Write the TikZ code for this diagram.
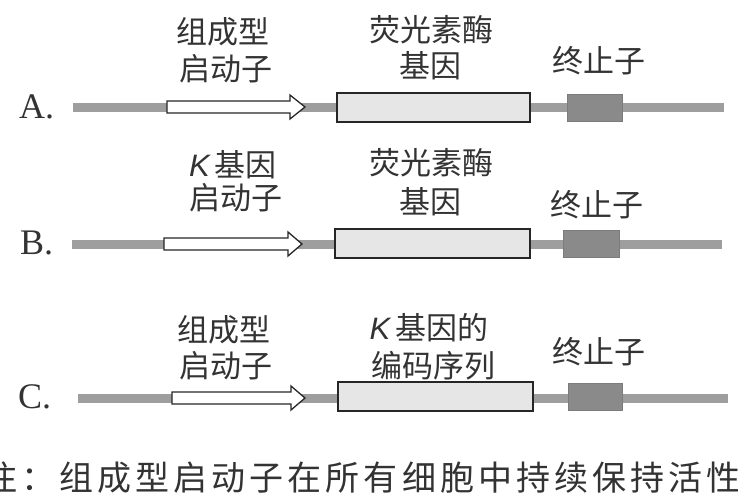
\documentclass[tikz,border=0pt]{standalone}
\usepackage{fontspec}
\setmainfont{Noto Sans CJK SC}
\newfontfamily\latinit{Liberation Sans}
\newfontfamily\letterfont{Liberation Serif}
\definecolor{dna}{HTML}{9E9E9E}
\definecolor{boxfill}{HTML}{E6E6E6}
\definecolor{termfill}{HTML}{8A8A8A}
\definecolor{txt}{HTML}{333333}
\begin{document}
\begin{tikzpicture}[x=1pt,y=-1pt,
  dnaline/.style={draw=dna, line width=9pt},
  genebox/.style={draw=black!85, line width=1.4pt, fill=boxfill, inner sep=0pt, minimum height=29pt},
  termbox/.style={draw=termfill!90!black, line width=0.6pt, fill=termfill, inner sep=0pt, minimum height=27pt},
  promoter/.style={draw=black!85, line width=1.3pt, fill=white, line join=miter},
  lbl/.style={text=txt, font=\fontsize{31}{31}\selectfont, inner sep=0pt},
  rowlbl/.style={text=txt, font=\letterfont\fontsize{36}{36}\selectfont, inner sep=0pt, anchor=west},
  note/.style={text=txt, font=\fontsize{34}{34}\selectfont\addfontfeature{LetterSpace=12}, inner sep=0pt, anchor=west}]
\useasboundingbox (0,0) rectangle (738,496);

% ---------- Row A ----------
\node[rowlbl] (rA) at (19,107) {A.};
\coordinate (a0) at (73,107);
\coordinate (a1) at (724,107);
\draw[dnaline] (a0) -- (a1);
\draw[promoter] (167,101) -- (290,101) -- (290,95) -- (305,107) -- (290,119) -- (290,113) -- (167,113) -- cycle;
\node[genebox, minimum width=193pt] (gA) at (433.5,107.5) {};
\node[termbox, minimum width=55pt] (tA) at (594.5,107.5) {};
\node[lbl] (pA1) at (223,32) {组成型};
\node[lbl] (pA2) at (226,69) {启动子};
\node[lbl] (gA1) at (431,30) {荧光素酶};
\node[lbl] (gA2) at (430,66) {基因};
\node[lbl] (tA1) at (599,61) {终止子};

% ---------- Row B ----------
\node[rowlbl] (rB) at (20,243) {B.};
\coordinate (b0) at (72,244);
\coordinate (b1) at (722,244);
\draw[dnaline] (b0) -- (b1);
\draw[promoter] (164,238) -- (288,238) -- (288,232) -- (302,244) -- (288,256) -- (288,250) -- (164,250) -- cycle;
\node[genebox, minimum width=195pt] (gB) at (432.5,243.5) {};
\node[termbox, minimum width=56pt] (tB) at (591,243.5) {};
\node[lbl] (pB1) at (233,165) {{\latinit\itshape K}\,基因};
\node[lbl] (pB2) at (236,198) {启动子};
\node[lbl] (gB1) at (431,163) {荧光素酶};
\node[lbl] (gB2) at (430,202) {基因};
\node[lbl] (tB1) at (597,205) {终止子};

% ---------- Row C ----------
\node[rowlbl] (rC) at (18,397) {C.};
\coordinate (c0) at (78,398);
\coordinate (c1) at (728,398);
\draw[dnaline] (c0) -- (c1);
\draw[promoter] (172,392) -- (291,392) -- (291,386) -- (305,398) -- (291,410) -- (291,404) -- (172,404) -- cycle;
\node[genebox, minimum width=195pt] (gC) at (435.5,396.5) {};
\node[termbox, minimum width=54pt] (tC) at (595,396.5) {};
\node[lbl] (pC1) at (224,330) {组成型};
\node[lbl] (pC2) at (226,366) {启动子};
\node[lbl] (gC1) at (429,328) {{\latinit\itshape K}\,基因的};
\node[lbl] (gC2) at (433,366) {编码序列};
\node[lbl] (tC1) at (599,352) {终止子};

% ---------- Note ----------
\node[note] (nt) at (-17,478) {注：组成型启动子在所有细胞中持续保持活性};
\end{tikzpicture}
\end{document}
